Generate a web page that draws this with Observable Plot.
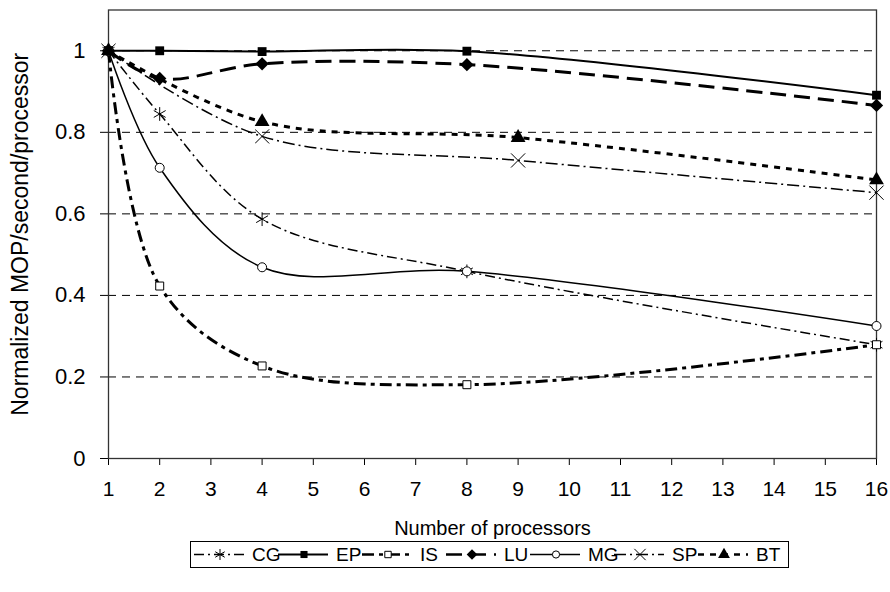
<!DOCTYPE html>
<html><head><meta charset="utf-8">
<script src="https://cdn.jsdelivr.net/npm/d3@7"></script>
<script src="https://cdn.jsdelivr.net/npm/@observablehq/plot@0.6"></script>
<style>
body{margin:0;background:#fff;font-family:"Liberation Sans",Arial,sans-serif;}
#wrap{position:relative;width:890px;height:592px;background:#fff;}
#legend{position:absolute;left:190px;top:541px;}
</style></head><body><div id="wrap"></div>
<script>
// ---- data ----
const seriesNames = ["CG", "EP", "IS", "LU", "MG", "SP", "BT"];
const processors = [1, 2, 4, 8, 16];
const processorsSPBT = [1, 4, 9, 16];
const CG = [1, 0.845, 0.587, 0.459, 0.279];
const EP = [1, 1.0, 0.998, 0.999, 0.891];
const IS = [1, 0.423, 0.227, 0.181, 0.279];
const LU = [1, 0.932, 0.968, 0.966, 0.866];
const MG = [1, 0.713, 0.469, 0.459, 0.325];
const SP = [1, 0.790, 0.731, 0.652];
const BT = [1, 0.826, 0.787, 0.683];
const xTicks = [1, 2, 3, 4, 5, 6, 7, 8, 9, 10, 11, 12, 13, 14, 15, 16];
const yTicks = [0, 0.2, 0.4, 0.6, 0.8, 1];
const xLabel = "Number of processors";
const yLabel = "Normalized MOP/second/processor";

// ---- styles ----
const styles = {
  CG: {w: 1.5, dash: "10,4,2,4", symbol: "asterisk", fill: "none", r: 6.5},
  EP: {w: 2, dash: null, symbol: "square", fill: "#000", r: 5},
  IS: {w: 3, dash: "12,5,4,5", symbol: "square", fill: "#fff", r: 4.5},
  LU: {w: 3, dash: "16,8", symbol: "diamond2", fill: "#000", r: 6},
  MG: {w: 1.5, dash: null, symbol: "circle", fill: "#fff", r: 4.5},
  SP: {w: 1.5, dash: "12,4,2,4", symbol: "times", fill: "none", r: 6.5},
  BT: {w: 3, dash: "6,6", symbol: "triangle", fill: "#000", r: 5.5}
};

const seriesData = {
  CG: [processors, CG], EP: [processors, EP], IS: [processors, IS], LU: [processors, LU],
  MG: [processors, MG], SP: [processorsSPBT, SP], BT: [processorsSPBT, BT]
};
const rows = [];
for (const s of seriesNames) {
  const [xs, vs] = seriesData[s];
  xs.forEach((x, i) => rows.push({series: s, n: x, v: vs[i]}));
}

const marks = [
  Plot.gridY(yTicks.filter(d => d > 0), {stroke: "#000", strokeOpacity: 1, strokeWidth: 1, strokeDasharray: "8,6"}),
  Plot.axisX({ticks: xTicks, tickSize: 7, tickPadding: 16, label: null, tickFormat: d => String(d), fontSize: 21}),
  Plot.axisY({ticks: yTicks, tickSize: 8, tickPadding: 15, label: null, tickFormat: d => String(d), fontSize: 22}),
  Plot.frame({stroke: "#333", strokeWidth: 1.3})
];
for (const s of seriesNames) {
  const st = styles[s];
  marks.push(Plot.line(rows.filter(d => d.series === s), {
    x: "n", y: "v", curve: "catmull-rom", stroke: "#000", strokeWidth: st.w,
    strokeDasharray: st.dash || undefined, strokeLinecap: "butt"
  }));
}
for (const s of seriesNames) {
  const st = styles[s];
  const filled = st.fill === "#000";
  marks.push(Plot.dot(rows.filter(d => d.series === s), {
    x: "n", y: "v", symbol: () => st.symbol, r: st.r,
    fill: st.fill, stroke: filled ? "none" : "#000", strokeWidth: 1
  }));
}
marks.push(Plot.text([yLabel], {frameAnchor: "left", textAnchor: "middle", dx: -88, rotate: -90, fontSize: 23, fill: "#000"}));
marks.push(Plot.text([xLabel], {frameAnchor: "bottom", dy: 76, fontSize: 20, fill: "#000"}));

const chart = Plot.plot({
  width: 890, height: 540,
  marginLeft: 108, marginRight: 14, marginTop: 9.5, marginBottom: 82,
  x: {type: "linear", domain: [1, 16]},
  y: {domain: [0, 1.1]},
  symbol: {type: "identity"},
  style: {fontFamily: "'Liberation Sans', Arial, sans-serif", fontSize: "20px", color: "#000", background: "#fff"},
  marks
});
document.getElementById("wrap").appendChild(chart);

// ---- legend ----
const symMap = {asterisk: d3.symbolAsterisk, square: d3.symbolSquare, diamond2: d3.symbolDiamond2,
  circle: d3.symbolCircle, times: d3.symbolTimes, triangle: d3.symbolTriangle};
const lw = 599, lh = 27;
const leg = d3.create("svg").attr("id", "legend").attr("width", lw).attr("height", lh);
leg.append("rect").attr("x", 0.5).attr("y", 0.5).attr("width", lw - 1).attr("height", lh - 1)
  .attr("fill", "#fff").attr("stroke", "#000").attr("stroke-width", 1);
seriesNames.forEach((s, i) => {
  const st = styles[s];
  const base = i * 84;
  const cy = lh / 2;
  leg.append("line").attr("x1", base + 4).attr("x2", base + 54).attr("y1", cy).attr("y2", cy)
    .attr("stroke", "#000").attr("stroke-width", Math.min(st.w, 2.5))
    .attr("stroke-dasharray", st.dash || null);
  const filled = st.fill === "#000";
  const rr = st.r * 0.8;
  leg.append("path").attr("transform", `translate(${base + 30},${cy})`)
    .attr("d", d3.symbol(symMap[st.symbol], Math.PI * rr * rr)())
    .attr("fill", st.fill).attr("stroke", filled ? "none" : "#000").attr("stroke-width", 1);
  leg.append("text").attr("x", base + 62).attr("y", cy).attr("dy", "0.36em")
    .attr("font-size", 19).attr("font-family", "'Liberation Sans', Arial, sans-serif").text(s);
});
document.getElementById("wrap").appendChild(leg.node());
</script></body></html>
